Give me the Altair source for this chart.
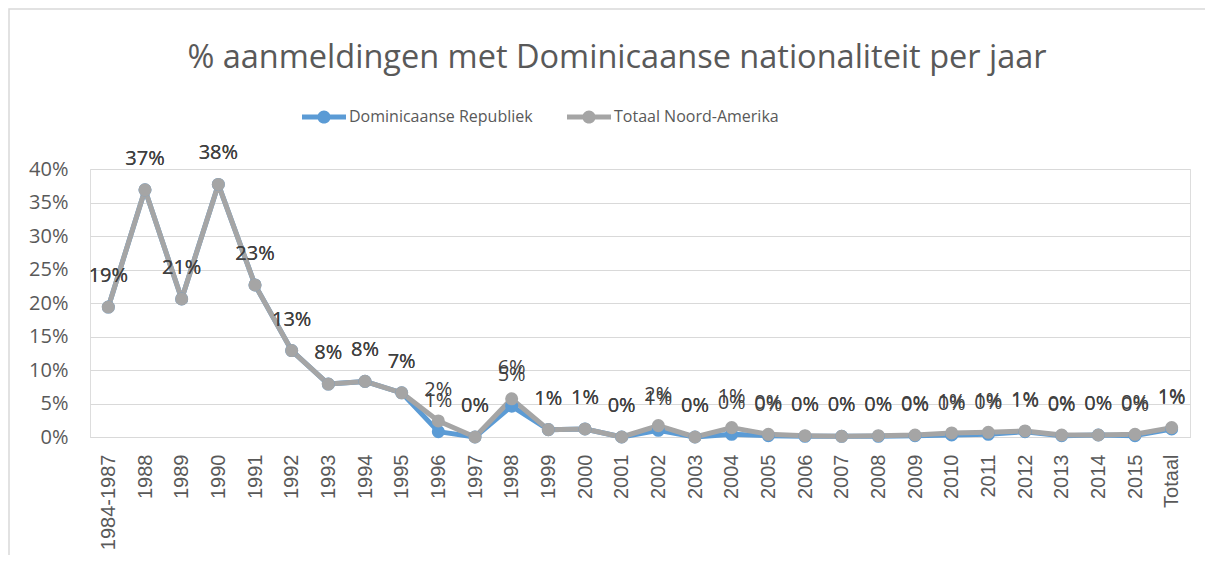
import altair as alt
import pandas as pd

categories = ["1984-1987", "1988", "1989", "1990", "1991", "1992", "1993", "1994", "1995",
              "1996", "1997", "1998", "1999", "2000", "2001", "2002", "2003", "2004", "2005",
              "2006", "2007", "2008", "2009", "2010", "2011", "2012", "2013", "2014", "2015",
              "Totaal"]

# percent values
dominicaanse = [19.4, 36.9, 20.6, 37.7, 22.7, 12.9, 7.9, 8.3, 6.6, 0.8, 0.0, 4.6, 1.1, 1.2,
                0.0, 1.0, 0.0, 0.4, 0.2, 0.1, 0.1, 0.1, 0.2, 0.3, 0.4, 0.8, 0.2, 0.3, 0.2, 1.2]
noord_amerika = [19.4, 36.9, 20.6, 37.7, 22.7, 12.9, 7.9, 8.3, 6.6, 2.4, 0.0, 5.7, 1.1, 1.2,
                 0.0, 1.7, 0.0, 1.4, 0.4, 0.2, 0.1, 0.2, 0.3, 0.6, 0.7, 0.9, 0.3, 0.3, 0.4, 1.4]

series_names = ["Dominicaanse Republiek", "Totaal Noord-Amerika"]
series_colors = ["#5B9BD5", "#A5A5A5"]

rows = []
for name, vals in zip(series_names, [dominicaanse, noord_amerika]):
    for c, v in zip(categories, vals):
        rows.append({"jaar": c, "serie": name, "waarde": v / 100.0})
df = pd.DataFrame(rows)

symbol_path = "M-1,-0.11L1,-0.11L1,0.11L-1,0.11ZM0.3,0A0.3,0.3,0,1,1,-0.3,0A0.3,0.3,0,1,1,0.3,0Z"

x_enc = alt.X("jaar:N", sort=categories,
              scale=alt.Scale(domain=categories, padding=0.5),
              axis=alt.Axis(title=None, labelAngle=-90, labelFont="Liberation Sans",
                            labelFontSize=20, labelColor="#595959", labelPadding=17,
                            domainColor="#D9D9D9", ticks=False, grid=False))
y_enc = alt.Y("waarde:Q",
              scale=alt.Scale(domain=[0, 0.4], nice=False),
              axis=alt.Axis(title=None, format=".0%", values=[i * 0.05 for i in range(9)],
                            labelFont="Open Sans", labelFontSize=20, labelColor="#595959",
                            labelPadding=22, domain=False, ticks=False,
                            gridColor="#D9D9D9", gridWidth=1))
color_scale = alt.Scale(domain=series_names, range=series_colors)

legend = alt.Legend(title=None, orient="none", direction="horizontal",
                    legendX=212, legendY=-74,
                    symbolType=symbol_path, symbolSize=1936,
                    symbolStrokeWidth=0, labelOffset=3,
                    labelFont="Open Sans", labelFontSize=16,
                    labelColor="#595959", columnPadding=34, labelLimit=400)

base = alt.Chart(df)

layers = []
for name, col in zip(series_names, series_colors):
    sub = base.transform_filter(alt.datum.serie == name)
    layers.append(sub.mark_line(strokeWidth=5, strokeJoin="round", color=col).encode(
        x=x_enc, y=y_enc))
layers.append(base.mark_circle(size=170, opacity=1).encode(
    x=x_enc, y=y_enc,
    color=alt.Color("serie:N", scale=color_scale, legend=legend)))
for name in series_names:
    sub = base.transform_filter(alt.datum.serie == name)
    layers.append(sub.mark_text(dy=-31, font="Open Sans", fontSize=20, color="#404040",
                                baseline="middle").encode(
        x=x_enc, y=y_enc, text=alt.Text("waarde:Q", format=".0%")))

frame_df = pd.DataFrame({"k": [0]})
frame = alt.Chart(frame_df).mark_rect(fill=None, filled=False, stroke="#D9D9D9",
                                      strokeWidth=1.5).encode(
    x=alt.value(-81), x2=alt.value(1200), y=alt.value(-160), y2=alt.value(500))

chart = alt.layer(frame, *layers).properties(
    width=1100, height=268,
    title=alt.TitleParams("% aanmeldingen met Dominicaanse nationaliteit per jaar",
                          font="Open Sans", fontSize=32.5, fontWeight="normal",
                          color="#595959", anchor="middle", dx=-23, offset=0, dy=66),
    autosize=alt.AutoSizeParams(type="none"),
    padding={"left": 82, "top": 161, "right": 15, "bottom": 118},
).configure_view(stroke=None).configure(background="white")

chart.save("out.html", embed_options={"renderer": "svg", "actions": False})
